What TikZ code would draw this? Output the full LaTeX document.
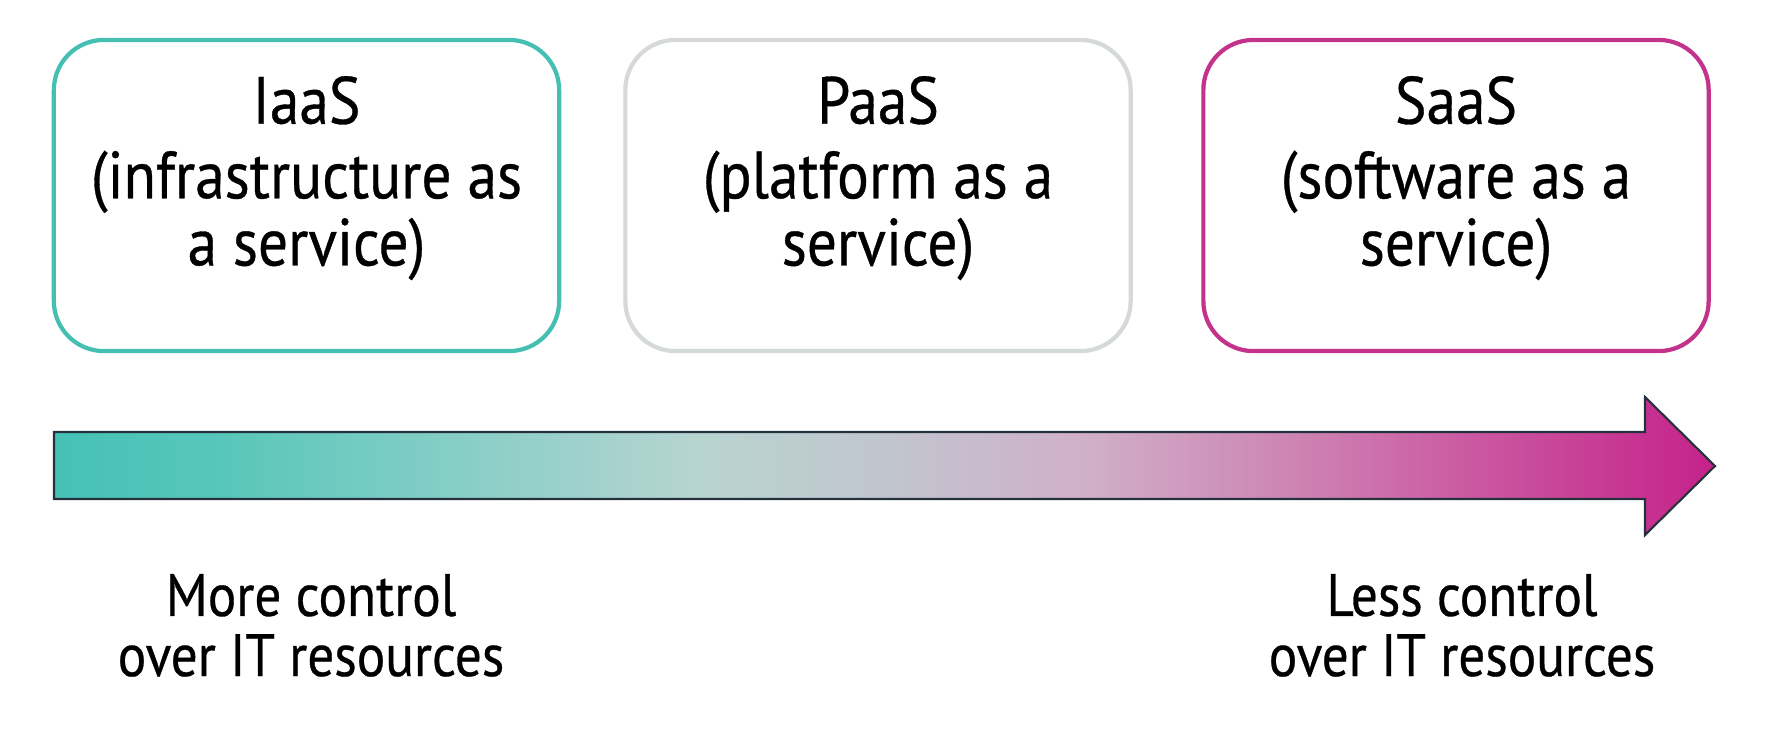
\documentclass[tikz,border=0pt]{standalone}
\usepackage{fontspec}
\setmainfont[FakeStretch=0.89, FakeBold=0.5]{PT Sans}
\usepackage{xcolor}
\usepackage{tikz}
\usetikzlibrary{calc,positioning}
\definecolor{iaasTeal}{HTML}{46BFB3}
\definecolor{paasGrey}{HTML}{D5D9D9}
\definecolor{saasPink}{HTML}{C4338B}
\definecolor{arrowLine}{HTML}{25323E}
% colour stops along the arrow
\definecolor{gradA}{HTML}{45C1B5}
\definecolor{gradB}{HTML}{58C6BA}
\definecolor{gradC}{HTML}{85CEC6}
\definecolor{gradD}{HTML}{B8D4D1}
\definecolor{gradE}{HTML}{C1C5CE}
\definecolor{gradF}{HTML}{D0B0C8}
\definecolor{gradG}{HTML}{CD80B2}
\definecolor{gradH}{HTML}{CA56A0}
\definecolor{gradI}{HTML}{C5228A}
\pgfdeclarehorizontalshading{ctrlshade}{100bp}{color(0bp)=(gradA); color(25bp)=(gradA); color(30bp)=(gradB); color(37bp)=(gradC); color(44.5bp)=(gradD); color(50bp)=(gradE); color(56bp)=(gradF); color(62.8bp)=(gradG); color(68bp)=(gradH); color(75bp)=(gradI); color(100bp)=(gradI)}
\tikzset{
  svcbox/.style={rectangle, rounded corners=0.5cm, draw=#1, fill=white, line width=1.2pt, minimum width=5.05cm, minimum height=3.11cm, inner sep=0pt},
  svctext/.style={align=center, anchor=base, font=\fontsize{19}{19.1}\selectfont, inner sep=0pt},
  ctrltext/.style={align=center, anchor=base, font=\fontsize{17}{17.1}\selectfont, inner sep=0pt},
}

\begin{document}
\begin{tikzpicture}[x=0.01cm,y=-0.01cm]
  \useasboundingbox (0,0) rectangle (1788,736);

  % Service boxes
  \node[svcbox=iaasTeal] (iaasbox) at (306.5,195.5) {};
  \node[svcbox=paasGrey] (paasbox) at (878,195.5) {};
  \node[svcbox=saasPink] (saasbox) at (1456,195.5) {};

  % Box texts (base = last line)
  \node[svctext] (iaas) at ([yshift=-2.275cm]iaasbox.north) {IaaS\\[2.1pt](infrastructure as\\a service)};
  \node[svctext] (paas) at ([yshift=-2.275cm]paasbox.north) {PaaS\\[2.1pt](platform as a\\service)};
  \node[svctext] (saas) at ([yshift=-2.275cm]saasbox.north) {SaaS\\[2.1pt](software as a\\service)};

  % Gradient arrow
  \path[draw=arrowLine, line width=0.6pt, shading=ctrlshade]
    (54,432) -- (1645,432) -- (1645,397) -- (1715,466) -- (1645,535) -- (1645,499) -- (54,499) -- cycle;

  % Control labels
  \node[ctrltext] (morectrl) at (311,676) {More control\\over IT resources};
  \node[ctrltext] (lessctrl) at (1462,676) {Less control\\over IT resources};
\end{tikzpicture}
\end{document}
